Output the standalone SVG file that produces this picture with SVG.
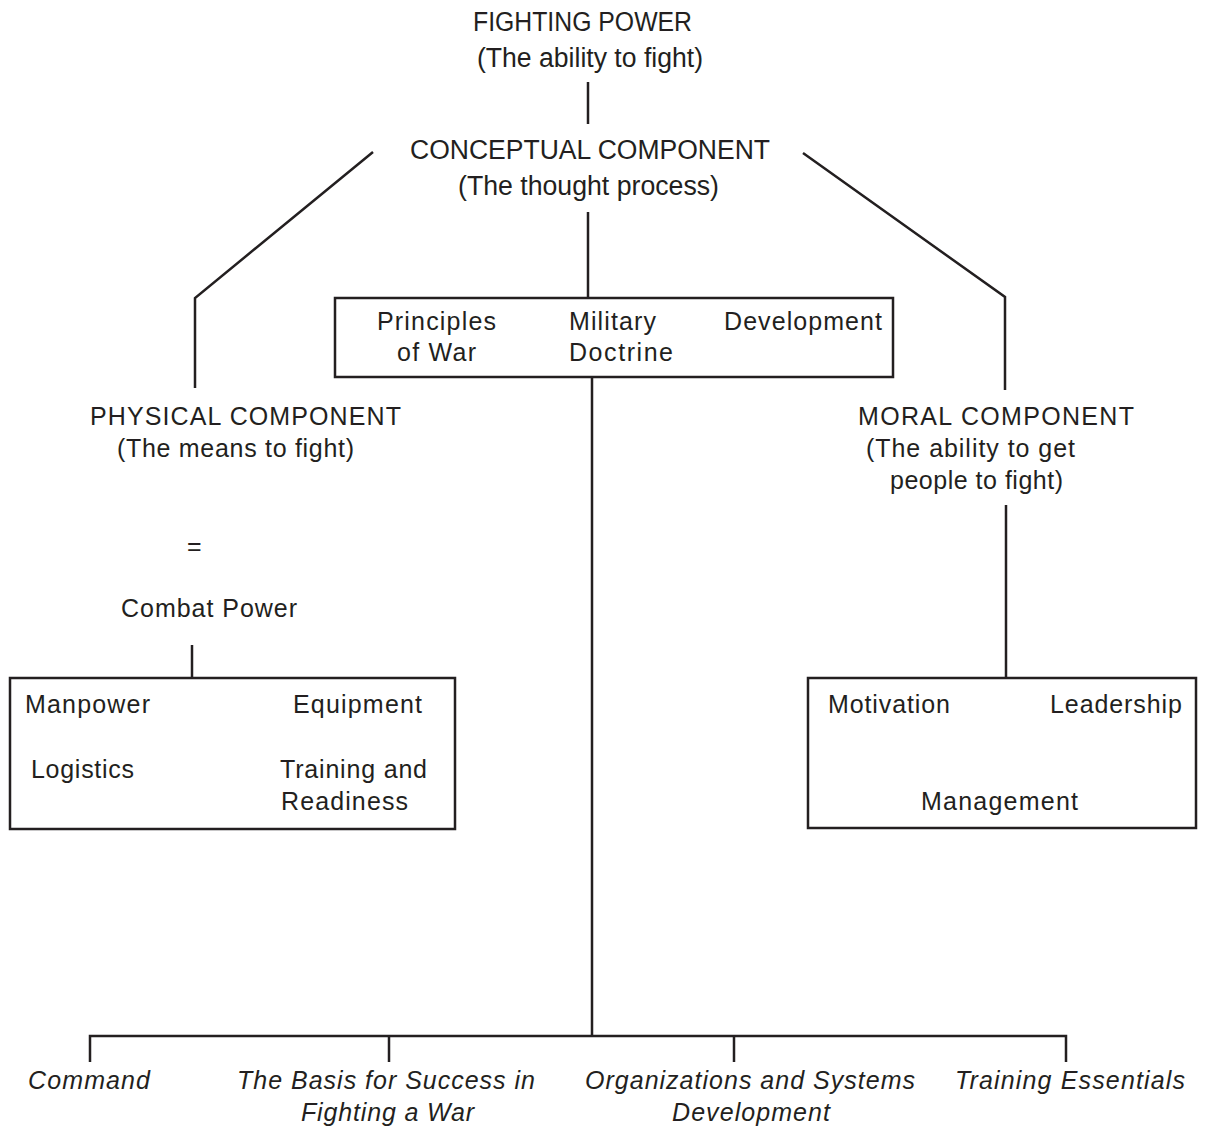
<svg xmlns="http://www.w3.org/2000/svg" width="1205" height="1128" viewBox="0 0 1205 1128">
<style>
text{font-family:"Liberation Sans",Arial,sans-serif;font-size:25px;fill:#231f20}
.t{font-size:27px}
.i{font-style:italic}
.ln{stroke:#231f20;stroke-width:2.5;fill:none}
.box{stroke:#231f20;stroke-width:2.5;fill:#fff}
</style>
<rect width="1205" height="1128" fill="#fff"/>
<g id="connectors">
<line class="ln" x1="588" y1="82" x2="588" y2="124"/>
<polyline class="ln" points="373,152 195,298 195,388"/>
<polyline class="ln" points="803,153 1005,297 1005,390"/>
<line class="ln" x1="588" y1="212" x2="588" y2="298"/>
<line class="ln" x1="592" y1="377" x2="592" y2="1036"/>
<line class="ln" x1="192" y1="645" x2="192" y2="678"/>
<line class="ln" x1="1006" y1="505" x2="1006" y2="678"/>
<polyline class="ln" points="90,1062 90,1036 1066,1036 1066,1062"/>
<line class="ln" x1="389" y1="1036" x2="389" y2="1062"/>
<line class="ln" x1="734" y1="1036" x2="734" y2="1062"/>
</g>
<g id="fighting-power">
<text class="t" x="473" y="31" textLength="219" lengthAdjust="spacingAndGlyphs">FIGHTING POWER</text>
<text class="t" x="477" y="67" textLength="226" lengthAdjust="spacingAndGlyphs">(The ability to fight)</text>
</g>
<g id="conceptual">
<text class="t" x="410" y="159" textLength="360" lengthAdjust="spacingAndGlyphs">CONCEPTUAL COMPONENT</text>
<text class="t" x="458" y="195" textLength="261" lengthAdjust="spacingAndGlyphs">(The thought process)</text>
</g>
<g id="conceptual-box">
<rect class="box" x="335" y="298" width="558" height="79"/>
<text x="377" y="330" textLength="119">Principles</text>
<text x="397" y="361" textLength="79">of War</text>
<text x="569" y="330" textLength="87">Military</text>
<text x="569" y="361" textLength="104">Doctrine</text>
<text x="724" y="330" textLength="158">Development</text>
</g>
<g id="physical">
<text x="90" y="425" textLength="311">PHYSICAL COMPONENT</text>
<text x="117" y="457" textLength="237">(The means to fight)</text>
<text x="187" y="555">=</text>
<text x="121" y="617" textLength="176">Combat Power</text>
</g>
<g id="physical-box">
<rect class="box" x="10" y="678" width="445" height="151"/>
<text x="25" y="713" textLength="125">Manpower</text>
<text x="293" y="713" textLength="129">Equipment</text>
<text x="31" y="778" textLength="103">Logistics</text>
<text x="280" y="778" textLength="147">Training and</text>
<text x="281" y="810" textLength="127">Readiness</text>
</g>
<g id="moral">
<text x="858" y="425" textLength="276">MORAL COMPONENT</text>
<text x="866" y="457" textLength="209">(The ability to get</text>
<text x="890" y="489" textLength="173">people to fight)</text>
</g>
<g id="moral-box">
<rect class="box" x="808" y="678" width="388" height="150"/>
<text x="828" y="713" textLength="122">Motivation</text>
<text x="1050" y="713" textLength="132">Leadership</text>
<text x="921" y="810" textLength="157">Management</text>
</g>
<g id="command"><text class="i" x="28" y="1089" textLength="122">Command</text></g>
<g id="basis">
<text class="i" x="237" y="1089" textLength="298">The Basis for Success in</text>
<text class="i" x="301" y="1121" textLength="173">Fighting a War</text>
</g>
<g id="organizations">
<text class="i" x="585" y="1089" textLength="330">Organizations and Systems</text>
<text class="i" x="672" y="1121" textLength="158">Development</text>
</g>
<g id="training"><text class="i" x="955" y="1089" textLength="230">Training Essentials</text></g>
</svg>
